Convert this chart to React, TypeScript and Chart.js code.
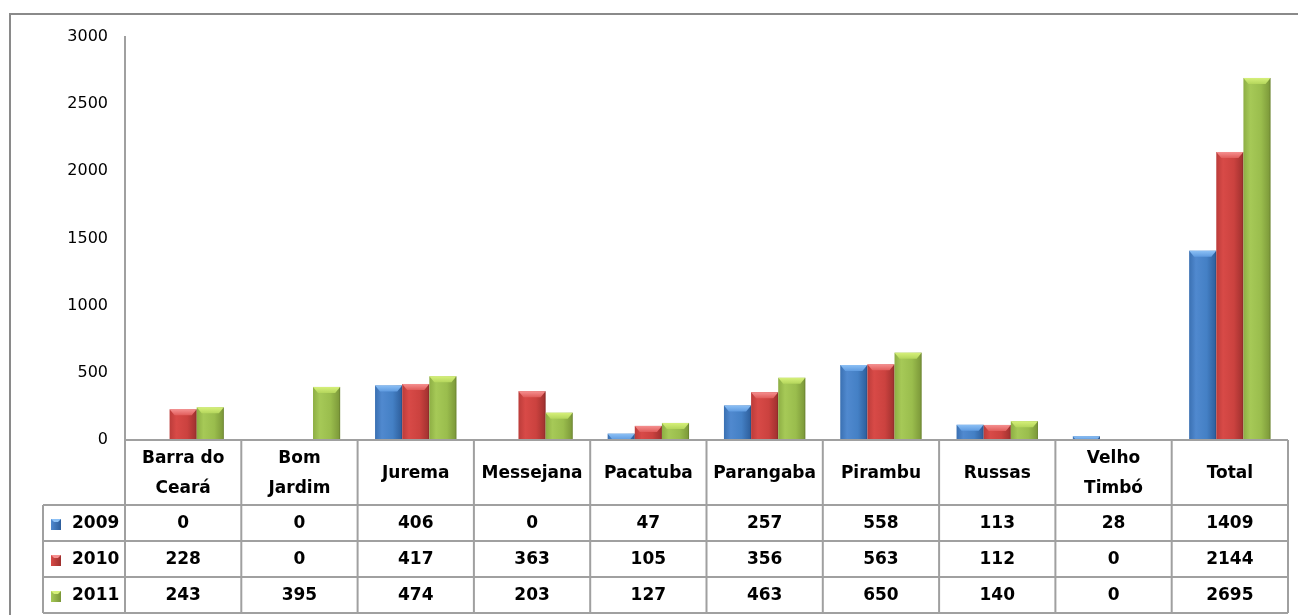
import React, { useEffect, useRef } from 'react';
import { Chart, registerables } from 'chart.js';

Chart.register(...registerables);

// ---- data ----
const categories: string[][] = [
  ['Barra do', 'Ceará'],
  ['Bom', 'Jardim'],
  ['Jurema'],
  ['Messejana'],
  ['Pacatuba'],
  ['Parangaba'],
  ['Pirambu'],
  ['Russas'],
  ['Velho', 'Timbó'],
  ['Total'],
];
const seriesNames = ['2009', '2010', '2011'];
const values2009 = [0, 0, 406, 0, 47, 257, 558, 113, 28, 1409];
const values2010 = [228, 0, 417, 363, 105, 356, 563, 112, 0, 2144];
const values2011 = [243, 395, 474, 203, 127, 463, 650, 140, 0, 2695];
const yMin = 0;
const yMax = 3000;
const yStep = 500;

// ---- styles ----
const gradStops = [
  ['#3a70b2', '#5089cf', '#4480c5', '#2d5d9a'],
  ['#bb3c3a', '#d84a47', '#cb423f', '#9d302e'],
  ['#8dae44', '#a6c957', '#9abd4d', '#7a9638'],
];
const capColors = [
  ['#8cc0f5', '#5f9be0'],
  ['#f59090', '#e05c5a'],
  ['#d6f07a', '#b4d65c'],
];
const gridColor = '#a0a0a0';
const textFont = "bold 17px 'DejaVu Sans'";
const headerRowH = 65;
const dataRowH = 36;
const legendColLeft = 43;

const bevelPlugin = {
  id: 'bevelBars',
  afterDatasetsDraw(chart: any) {
    const ctx = chart.ctx;
    ctx.save();
    chart.data.datasets.forEach((ds: any, di: number) => {
      const meta = chart.getDatasetMeta(di);
      meta.data.forEach((bar: any, i: number) => {
        const v = ds.data[i];
        if (!v) return;
        const { x, y, base, width } = bar.getProps(['x', 'y', 'base', 'width'], true);
        const l = x - width / 2;
        const r = x + width / 2;
        const h = base - y;
        const g = ctx.createLinearGradient(l, 0, r, 0);
        const st = gradStops[di];
        g.addColorStop(0, st[0]);
        g.addColorStop(0.25, st[1]);
        g.addColorStop(0.65, st[2]);
        g.addColorStop(1, st[3]);
        ctx.fillStyle = g;
        ctx.fillRect(l, y, width, h);
        const capH = Math.min(6, h);
        const inset = Math.min(5, width / 4) * (capH / 6);
        const cg = ctx.createLinearGradient(0, y, 0, y + capH);
        cg.addColorStop(0, capColors[di][0]);
        cg.addColorStop(1, capColors[di][1]);
        ctx.fillStyle = cg;
        ctx.beginPath();
        ctx.moveTo(l, y);
        ctx.lineTo(r, y);
        ctx.lineTo(r - inset, y + capH);
        ctx.lineTo(l + inset, y + capH);
        ctx.closePath();
        ctx.fill();
        ctx.strokeStyle = 'rgba(0,0,0,0.12)';
        ctx.lineWidth = 1;
        ctx.beginPath();
        ctx.moveTo(r - 0.5, y);
        ctx.lineTo(r - 0.5, base);
        ctx.stroke();
      });
    });
    ctx.restore();
  },
};

const tablePlugin = {
  id: 'dataTable',
  afterDraw(chart: any) {
    const ctx = chart.ctx;
    const xs = chart.scales.x;
    const area = chart.chartArea;
    const n = categories.length;
    const colW = (xs.right - xs.left) / n;
    const top = area.bottom;
    const rowsTop = top + headerRowH;
    const bottom = rowsTop + dataRowH * seriesNames.length;
    const left = xs.left;
    const right = xs.right;
    const series = [values2009, values2010, values2011];

    ctx.save();
    ctx.strokeStyle = '#8a8a8a';
    ctx.lineWidth = 2;
    ctx.strokeRect(10, 14, chart.width + 20, chart.height + 20);

    ctx.strokeStyle = gridColor;
    ctx.lineWidth = 2;
    ctx.beginPath();
    ctx.moveTo(left, top);
    ctx.lineTo(right, top);
    for (let r = 0; r <= seriesNames.length; r++) {
      const yy = rowsTop + r * dataRowH;
      ctx.moveTo(legendColLeft, yy);
      ctx.lineTo(right, yy);
    }
    for (let c = 0; c <= n; c++) {
      const xx = left + c * colW;
      ctx.moveTo(xx, top);
      ctx.lineTo(xx, bottom);
    }
    ctx.moveTo(legendColLeft, rowsTop);
    ctx.lineTo(legendColLeft, bottom);
    ctx.stroke();

    ctx.fillStyle = '#000';
    ctx.font = textFont;
    ctx.textAlign = 'center';
    ctx.textBaseline = 'middle';
    categories.forEach((lines, i) => {
      const cx = xs.getPixelForValue(i);
      const cy = top + headerRowH / 2 + 1;
      if (lines.length === 1) {
        ctx.fillText(lines[0], cx, cy);
      } else {
        ctx.fillText(lines[0], cx, cy - 15);
        ctx.fillText(lines[1], cx, cy + 15);
      }
    });
    series.forEach((vals, r) => {
      const cy = rowsTop + r * dataRowH + dataRowH / 2 + 1;
      vals.forEach((v, i) => {
        ctx.fillText(String(v), xs.getPixelForValue(i), cy);
      });
    });
    ctx.textAlign = 'left';
    seriesNames.forEach((name, r) => {
      const cy = rowsTop + r * dataRowH + dataRowH / 2 + 1;
      const mx = legendColLeft + 8;
      const g = ctx.createLinearGradient(mx, 0, mx + 10, 0);
      g.addColorStop(0, gradStops[r][1]);
      g.addColorStop(1, gradStops[r][3]);
      ctx.fillStyle = g;
      ctx.fillRect(mx, cy - 5, 10, 11);
      ctx.fillStyle = capColors[r][0];
      ctx.beginPath();
      ctx.moveTo(mx, cy - 5);
      ctx.lineTo(mx + 10, cy - 5);
      ctx.lineTo(mx + 7, cy - 2);
      ctx.lineTo(mx + 3, cy - 2);
      ctx.closePath();
      ctx.fill();
      ctx.fillStyle = '#000';
      ctx.fillText(name, legendColLeft + 29, cy);
    });
    ctx.restore();
  },
};

export default function App() {
  const ref = useRef<HTMLCanvasElement | null>(null);
  useEffect(() => {
    if (!ref.current) return;
    const chart = new Chart(ref.current, {
      type: 'bar',
      data: {
        labels: categories.map((c) => c.join(' ')),
        datasets: [
          { label: seriesNames[0], data: values2009, backgroundColor: 'rgba(0,0,0,0)' },
          { label: seriesNames[1], data: values2010, backgroundColor: 'rgba(0,0,0,0)' },
          { label: seriesNames[2], data: values2011, backgroundColor: 'rgba(0,0,0,0)' },
        ],
      },
      options: {
        animation: false,
        responsive: true,
        maintainAspectRatio: false,
        layout: { padding: { top: 37, right: 10, bottom: 175, left: 0 } },
        datasets: { bar: { categoryPercentage: 0.7, barPercentage: 1 } },
        plugins: {
          legend: { display: false },
          tooltip: { enabled: false },
          title: { display: false },
        },
        scales: {
          x: { display: false, offset: true },
          y: {
            min: yMin,
            max: yMax,
            ticks: {
              stepSize: yStep,
              padding: 17,
              color: '#000',
              font: { family: 'DejaVu Sans', size: 16 },
              callback: (v: any) => String(v),
            },
            grid: { display: false, drawTicks: false },
            border: { display: true, color: gridColor, width: 2 },
            afterFit: (s: any) => {
              s.width = 125;
            },
          },
        },
      },
      plugins: [bevelPlugin, tablePlugin],
    });
    return () => chart.destroy();
  }, []);
  return (
    <div style={{ position: 'absolute', left: 0, top: 0, width: 1298, height: 615, background: '#fff' }}>
      <canvas ref={ref} />
    </div>
  );
}
